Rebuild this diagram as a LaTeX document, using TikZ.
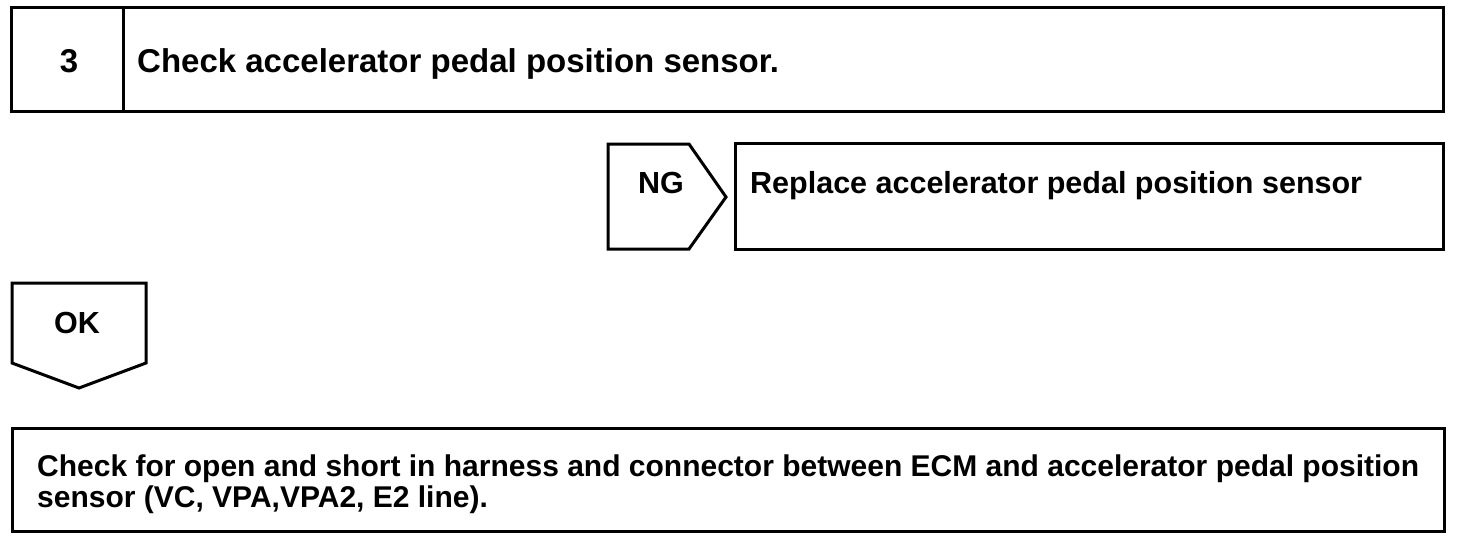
\documentclass[tikz,border=0pt]{standalone}
\usepackage{fontspec}
\setmainfont{Liberation Sans}
\begin{document}
\begin{tikzpicture}[x=1pt,y=-1pt,
  box/.style={draw,line width=3pt,inner sep=0pt,outer sep=0pt,anchor=north west},
  tag/.style={draw,line width=3pt,line join=miter},
  lbl/.style={inner sep=0pt,anchor=base west,font=\fontsize{30.5}{36}\selectfont\bfseries},
  smalllbl/.style={inner sep=0pt,anchor=base west,font=\fontsize{30}{36}\selectfont\bfseries},
  biglbl/.style={inner sep=0pt,anchor=base west,font=\fontsize{33}{40}\selectfont\bfseries}]
\useasboundingbox (0,0) rectangle (1472,542);
% top step box
\node[box,minimum width=1432pt,minimum height=104pt] (top) at (11,7) {};
\draw[line width=3pt] (123,7) -- (123,111);
\node[biglbl,anchor=base] (num) at (69,72) {3};
\node[biglbl] (toptxt) at (137,72) {Check accelerator pedal position sensor.};
% NG tag
\draw[tag] (608,144) -- (689,144) -- (726,197) -- (689,249) -- (608,249) -- cycle;
\node[lbl,anchor=base] (ng) at (661,193) {NG};
% Replace box
\node[box,minimum width=708pt,minimum height=106pt] (repl) at (735,143) {};
\node[lbl] (repltxt) at (750,193) {Replace accelerator pedal position sensor};
% OK tag
\draw[tag] (12,283) -- (146,283) -- (146,363) -- (79,388) -- (12,363) -- cycle;
\node[lbl,anchor=base] (ok) at (77,333) {OK};
% bottom box
\node[box,minimum width=1432pt,minimum height=103pt] (bot) at (12,428) {};
\node[smalllbl] (bot1) at (37,476) {Check for open and short in harness and connector between ECM and accelerator pedal position};
\node[smalllbl] (bot2) at (37,507) {sensor (VC, VPA,VPA2, E2 line).};
\end{tikzpicture}
\end{document}
